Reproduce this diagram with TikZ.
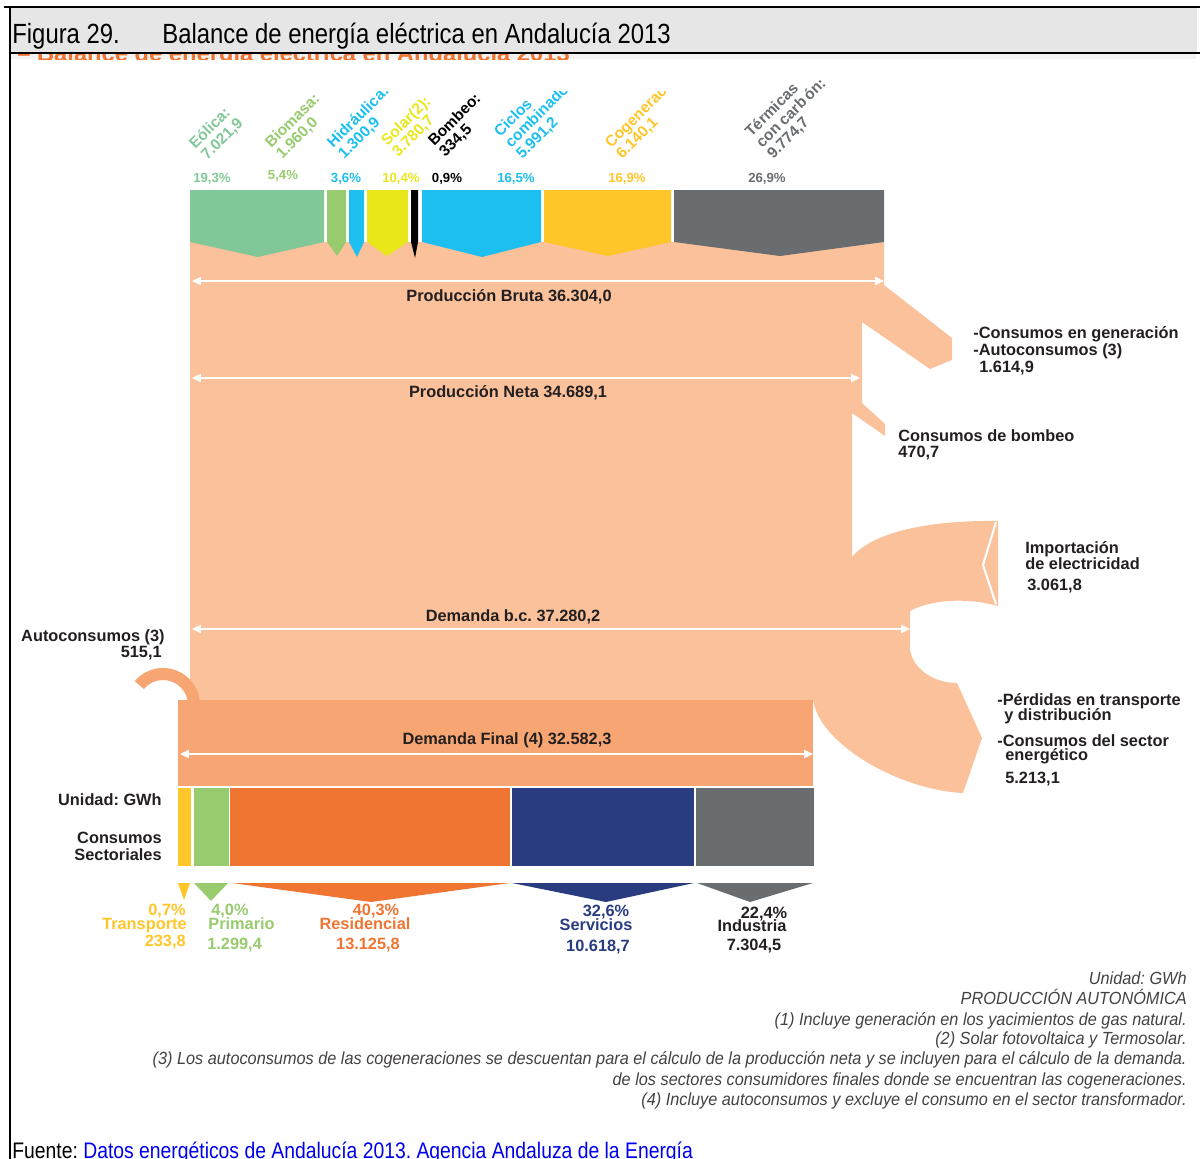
\documentclass[tikz,border=0pt]{standalone}
\usepackage{fontspec}
\setmainfont{Liberation Sans}
\newfontfamily\titulofont[FakeStretch=0.86]{Liberation Sans}
\newfontfamily\notafont[FakeStretch=0.927]{Liberation Sans}
\usetikzlibrary{arrows.meta}

\definecolor{melocoton}{RGB}{250,193,155}
\definecolor{naranjaclaro}{RGB}{247,166,115}
\definecolor{eolica}{RGB}{130,199,151}
\definecolor{biomasa}{RGB}{151,203,110}
\definecolor{hidraulica}{RGB}{29,191,240}
\definecolor{solar}{RGB}{233,230,26}
\definecolor{cogen}{RGB}{255,198,41}
\definecolor{carbon}{RGB}{106,109,112}
\definecolor{residencial}{RGB}{240,116,50}
\definecolor{servicios}{RGB}{42,60,128}
\definecolor{textoosc}{RGB}{35,31,32}
\definecolor{cabecera}{RGB}{230,230,230}
\definecolor{enlace}{RGB}{0,0,238}

\tikzset{
  titulo/.style={font=\titulofont\fontsize{15.8}{17}\selectfont, anchor=base west, inner sep=0pt},
  etiqueta/.style={font=\fontsize{9.3}{10}\selectfont\bfseries, text=textoosc, inner sep=0pt},
  pct/.style={font=\fontsize{7.5}{8}\selectfont\bfseries, inner sep=0pt, anchor=base},
  girada/.style={font=\fontsize{8.8}{10}\selectfont\bfseries, rotate=45, anchor=base west, inner sep=0pt},
  flecha/.style={white, line width=1.1pt, {Triangle[length=5pt,width=4.5pt]}-{Triangle[length=5pt,width=4.5pt]}},
  nota/.style={font=\notafont\itshape\fontsize{10}{11}\selectfont, text=textoosc!85, anchor=base east, inner sep=0pt},
}

\begin{document}
\frenchspacing
\begin{tikzpicture}[x=0.02cm, y=-0.02cm]
  \useasboundingbox (0,0) rectangle (1200,1159);
  \clip (0,0) rectangle (1200,1159);

  %%%%% CABECERA %%%%%
  \fill[cabecera] (10,8) rectangle (1197,53);
  \fill[black!5] (11,54) rectangle (1196,59);
  \begin{scope}
    \clip (11,54) rectangle (690,60);
    \node[font=\bfseries\fontsize{13.5}{15}\selectfont, text=residencial, anchor=base west, inner sep=0pt] (eco) at (17,62) {-- Balance de energía eléctrica en Andalucía 2013};
  \end{scope}
  \draw[line width=1.6pt] (4,7) -- (1200,7);
  \draw[line width=1pt] (10,53) -- (1200,53);
  \draw[line width=1.2pt] (10,7) -- (10,1159);
  \node[titulo] (fig) at (12,44) {Figura 29.};
  \node[titulo] (tit) at (162,44) {Balance de energía eléctrica en Andalucía 2013};

  %%%%% FLUJO PRINCIPAL %%%%%
  \fill[melocoton] (190,242) -- (884,242) -- (884,285) -- (952,338) -- (952,360) -- (930,369)
    -- (862,322) -- (862,403) -- (885,424) -- (885,436) -- (852,413) -- (852,557)
    .. controls (870,535) and (920,520) .. (998,521) -- (998,606)
    .. controls (965,597) and (930,600) .. (910,611) -- (910,647)
    .. controls (910,665) and (930,683) .. (957,683) -- (982,738) -- (963,793)
    .. controls (900,790) and (820,745) .. (813,700) -- (190,700) -- cycle;
  \draw[white, line width=1.2pt] (996,522) -- (983,565) -- (996,604);

  % autoconsumos (3)
  \fill[naranjaclaro] (134.7,681.2) arc[start angle=-140, end angle=0, radius=37]
    -- (188,705) arc[start angle=0, end angle=-140, radius=25] -- cycle;
  % demanda final
  \fill[naranjaclaro] (178,700) rectangle (813,786);

  %%%%% FUENTES DE GENERACION %%%%%
  \fill[eolica] (190,190) -- (324,190) -- (324,242) -- (258,257) -- (190,242) -- cycle;
  \fill[biomasa] (327,190) -- (346,190) -- (346,242) -- (337,256) -- (327,242) -- cycle;
  \fill[hidraulica] (349,190) -- (364,190) -- (364,242) -- (357,257) -- (349,242) -- cycle;
  \fill[solar] (367,190) -- (408,190) -- (408,242) -- (387,256) -- (367,242) -- cycle;
  \fill[black] (411,190) -- (418,190) -- (418,242) -- (415,258) -- (411,242) -- cycle;
  \fill[hidraulica] (422,190) -- (541,190) -- (541,242) -- (482,257) -- (422,242) -- cycle;
  \fill[cogen] (544,190) -- (671,190) -- (671,242) -- (608,256) -- (544,242) -- cycle;
  \fill[carbon] (674,190) -- (884,190) -- (884,242) -- (780,256) -- (674,242) -- cycle;

  \node[pct, text=eolica] (pEol) at (212,182) {19,3\%};
  \node[pct, text=biomasa] (pBio) at (283,179) {5,4\%};
  \node[pct, text=hidraulica] (pHid) at (346,182) {3,6\%};
  \node[pct, text=solar] (pSol) at (401,182) {10,4\%};
  \node[pct, text=black] (pBom) at (447,182) {0,9\%};
  \node[pct, text=hidraulica] (pCic) at (516,182) {16,5\%};
  \node[pct, text=cogen] (pCog) at (627,182) {16,9\%};
  \node[pct, text=carbon] (pTer) at (767,182) {26,9\%};

  \begin{scope}
    \clip (180,92) rectangle (720,170);
    \node[girada, text=eolica] (eolA) at (195,150) {Eólica:};
    \node[girada, text=eolica] (eolB) at (207,161) {7.021,9};
    \node[girada, text=biomasa] (bioA) at (271,149) {Biomasa:};
    \node[girada, text=biomasa] (bioB) at (282,160) {1.960,0};
    \node[girada, text=hidraulica] (hidA) at (333,149) {Hidráulica:};
    \node[girada, text=hidraulica] (hidB) at (344,160) {1.300,9};
    \node[girada, text=solar] (solA) at (387,147) {Solar(2):};
    \node[girada, text=solar] (solB) at (398,158) {3.780,7};
    \node[girada, text=black] (bomA) at (434,147) {Bombeo:};
    \node[girada, text=black] (bomB) at (445,158) {334,5};
    \node[girada, text=hidraulica] (cicA) at (500,138) {Ciclos};
    \node[girada, text=hidraulica] (cicB) at (511,149) {combinados:};
    \node[girada, text=hidraulica] (cicC) at (522,160) {5.991,2};
    \node[girada, text=cogen] (cogA) at (611,149) {Cogeneración:};
    \node[girada, text=cogen] (cogB) at (622,160) {6.140,1};
  \end{scope}
  \node[girada, text=carbon] (terA) at (751,138) {Térmicas};
  \node[girada, text=carbon] (terB) at (762,149) {con carb\,ón:};
  \node[girada, text=carbon] (terC) at (773,160) {9.774,7};

  %%%%% FLECHAS DE BALANCE %%%%%
  \coordinate (brutaI) at (192,281);
  \coordinate (brutaD) at (884,281);
  \coordinate (netaI) at (192,378);
  \coordinate (netaD) at (860,378);
  \coordinate (bcI) at (192,629);
  \coordinate (bcD) at (910,629);
  \coordinate (finalI) at (180,754);
  \coordinate (finalD) at (813,754);
  \draw[flecha] (brutaI) -- (brutaD);
  \draw[flecha] (netaI) -- (netaD);
  \draw[flecha] (bcI) -- (bcD);
  \draw[flecha] (finalI) -- (finalD);

  \node[etiqueta, anchor=base] (lBruta) at (509,301) {Producción Bruta 36.304,0};
  \node[etiqueta, anchor=base] (lNeta) at (508,397) {Producción Neta 34.689,1};
  \node[etiqueta, anchor=base] (lBc) at (513,621) {Demanda b.c. 37.280,2};
  \node[etiqueta, anchor=base] (lFinal) at (507,744) {Demanda Final (4) 32.582,3};

  %%%%% ETIQUETAS DERECHA %%%%%
  \node[etiqueta, anchor=base west] (cgA) at (973,338) {-Consumos en generación};
  \node[etiqueta, anchor=base west] (cgB) at (973,355) {-Autoconsumos (3)};
  \node[etiqueta, anchor=base west] (cgC) at (979,372) {1.614,9};
  \node[etiqueta, anchor=base west] (cbA) at (898,441) {Consumos de bombeo};
  \node[etiqueta, anchor=base west] (cbB) at (898,457) {470,7};
  \node[etiqueta, anchor=base west] (imA) at (1025,553) {Importación};
  \node[etiqueta, anchor=base west] (imB) at (1025,569) {de electricidad};
  \node[etiqueta, anchor=base west] (imC) at (1027,590) {3.061,8};
  \node[etiqueta, anchor=base west] (peA) at (997,705) {-Pérdidas en transporte};
  \node[etiqueta, anchor=base west] (peB) at (1004,720) {y distribución};
  \node[etiqueta, anchor=base west] (peC) at (997,746) {-Consumos del sector};
  \node[etiqueta, anchor=base west] (peD) at (1005,760) {energético};
  \node[etiqueta, anchor=base west] (peE) at (1005,783) {5.213,1};

  %%%%% ETIQUETAS IZQUIERDA %%%%%
  \node[etiqueta, anchor=base east] (acA) at (165,641) {Autoconsumos (3)};
  \node[etiqueta, anchor=base east] (acB) at (162,657) {515,1};
  \node[etiqueta, anchor=base east] (unidad) at (162,805) {Unidad: GWh};
  \node[etiqueta, anchor=base east] (csA) at (162,843) {Consumos};
  \node[etiqueta, anchor=base east] (csB) at (162,860) {Sectoriales};

  %%%%% CONSUMOS SECTORIALES %%%%%
  \fill[cogen] (178,788) rectangle (191,866);
  \fill[biomasa] (194,788) rectangle (229,866);
  \fill[residencial] (230,788) rectangle (510,866);
  \fill[servicios] (512,788) rectangle (694,866);
  \fill[carbon] (696,788) rectangle (814,866);

  \fill[cogen] (178,883) -- (190,883) -- (184,900) -- cycle;
  \fill[biomasa] (194,883) -- (228,883) -- (211,901) -- cycle;
  \fill[residencial] (232,883) -- (510,883) -- (371,902) -- cycle;
  \fill[servicios] (512,883) -- (694,883) -- (606,902) -- cycle;
  \fill[carbon] (697,883) -- (813,883) -- (750,902) -- cycle;

  \node[etiqueta, text=cogen, anchor=base east] (trA) at (186,915) {0,7\%};
  \node[etiqueta, text=cogen, anchor=base east] (trB) at (187,929) {Transporte};
  \node[etiqueta, text=cogen, anchor=base east] (trC) at (186,946) {233,8};
  \node[etiqueta, text=biomasa, anchor=base west] (prA) at (211,915) {4,0\%};
  \node[etiqueta, text=biomasa, anchor=base west] (prB) at (208,929) {Primario};
  \node[etiqueta, text=biomasa, anchor=base west] (prC) at (207,949) {1.299,4};
  \node[etiqueta, text=residencial, anchor=base] (reA) at (376,915) {40,3\%};
  \node[etiqueta, text=residencial, anchor=base] (reB) at (365,929) {Residencial};
  \node[etiqueta, text=residencial, anchor=base] (reC) at (368,949) {13.125,8};
  \node[etiqueta, text=servicios, anchor=base] (seA) at (606,916) {32,6\%};
  \node[etiqueta, text=servicios, anchor=base] (seB) at (596,930) {Servicios};
  \node[etiqueta, text=servicios, anchor=base] (seC) at (598,951) {10.618,7};
  \node[etiqueta, anchor=base] (inA) at (764,918) {22,4\%};
  \node[etiqueta, anchor=base] (inB) at (752,931) {Industria};
  \node[etiqueta, anchor=base] (inC) at (754,950) {7.304,5};

  %%%%% NOTAS %%%%%
  \node[nota] (n0) at (1187,984) {Unidad: GWh};
  \node[nota] (n1) at (1187,1004) {PRODUCCIÓN AUTONÓMICA};
  \node[nota] (n2) at (1187,1025) {(1) Incluye generación en los yacimientos de gas natural.};
  \node[nota] (n3) at (1187,1044) {(2) Solar fotovoltaica y Termosolar.};
  \node[nota] (n4) at (1187,1064) {(3) Los autoconsumos de las cogeneraciones se descuentan para el cálculo de la producción neta y se incluyen para el cálculo de la demanda.};
  \node[nota] (n5) at (1187,1085) {de los sectores consumidores finales donde se encuentran las cogeneraciones.};
  \node[nota] (n6) at (1187,1105) {(4) Incluye autoconsumos y excluye el consumo en el sector transformador.};

  \node[font=\titulofont\fontsize{12.8}{14}\selectfont, anchor=base west, inner sep=0pt] (fuente) at (12,1158) {Fuente: \textcolor{enlace}{Datos energéticos de Andalucía 2013. Agencia Andaluza de la Energía}};
\end{tikzpicture}
\end{document}
